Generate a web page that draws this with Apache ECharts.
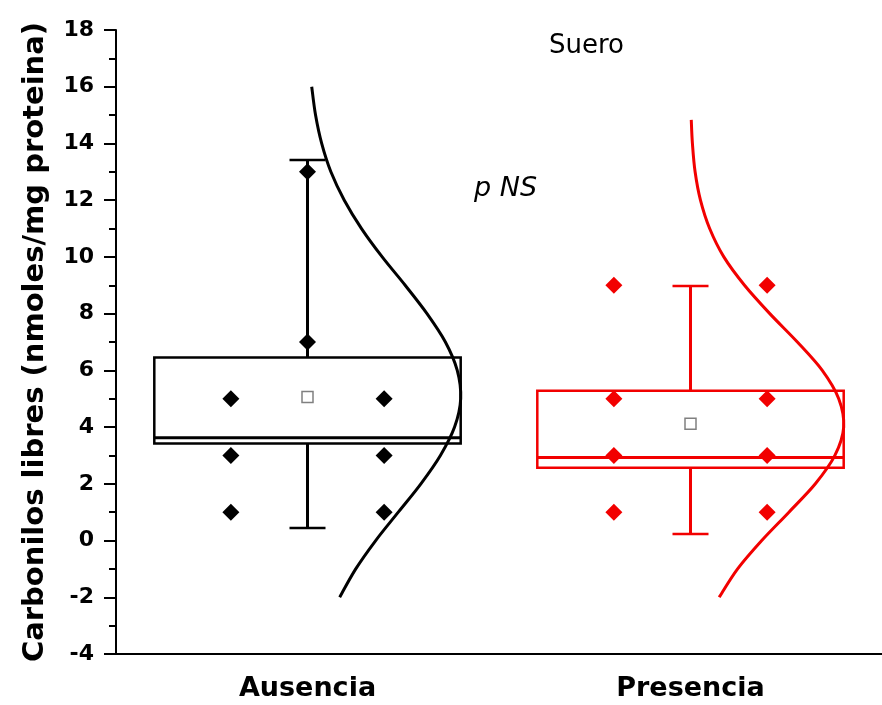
<!DOCTYPE html>
<html>
<head>
<meta charset="utf-8">
<script src="https://cdn.jsdelivr.net/npm/echarts@6/dist/echarts.min.js"></script>
<style>html,body{margin:0;padding:0;background:#fff;}#c{width:882px;height:705px;}</style>
</head>
<body>
<div id="c"></div>
<script>
// ---- data ----
const categories = ['Ausencia', 'Presencia'];
const yTicks = [-4, -2, 0, 2, 4, 6, 8, 10, 12, 14, 16, 18];
// box statistics: [q1, median, q3, whiskerLow, whiskerHigh, mean]
const boxAusencia = [3.42, 3.62, 6.45, 0.44, 13.42, 5.06];
const boxPresencia = [2.57, 2.93, 5.28, 0.23, 8.97, 4.12];
// raw points, by column (left / centre / right)
const ptsAusenciaLeft = [5, 3, 1];
const ptsAusenciaCenter = [13, 7];
const ptsAusenciaRight = [5, 3, 1];
const ptsPresenciaLeft = [9, 5, 3, 1];
const ptsPresenciaCenter = [];
const ptsPresenciaRight = [9, 5, 3, 1];
// normal-curve outline: [value, curve width in category units]
const curveAusencia = [
  [16, 0.011], [15, 0.021], [14, 0.037], [13, 0.061], [12, 0.096], [11, 0.141],
  [10, 0.195], [9, 0.255], [8, 0.312], [7, 0.360], [6, 0.391], [5, 0.400],
  [4, 0.384], [3, 0.347], [2, 0.296], [1, 0.237], [0, 0.178], [-1, 0.126], [-2, 0.084]
];
const curvePresencia = [
  [14.83, 0.002], [14, 0.005], [13, 0.012], [12, 0.026], [11, 0.050], [10, 0.087],
  [9, 0.141], [8, 0.207], [7, 0.279], [6, 0.344], [5, 0.387], [4, 0.400],
  [3, 0.377], [2, 0.326], [1, 0.257], [0, 0.186], [-1, 0.123], [-2, 0.075]
];
const annotTitle = 'Suero';
const annotP = 'p NS';
const yAxisTitle = 'Carbonilos libres (nmoles/mg proteina)';

// ---- styling ----
const BLACK = '#000000';
const RED = '#f20000';
const colors = [BLACK, RED];
const FONT = '"DejaVu Sans", sans-serif';
const colOffset = 0.2;

const boxes = [boxAusencia, boxPresencia];
const colsLeft = [ptsAusenciaLeft, ptsPresenciaLeft];
const colsCenter = [ptsAusenciaCenter, ptsPresenciaCenter];
const colsRight = [ptsAusenciaRight, ptsPresenciaRight];
const curves = [curveAusencia, curvePresencia];

const series = [];

// boxes + whiskers
series.push({
  type: 'custom',
  xAxisIndex: 1, yAxisIndex: 0,
  data: boxes.map((b, i) => [i + 1].concat(b).concat([i])),
  renderItem: function (params, api) {
    const x = api.value(0);
    const q1 = api.value(1), med = api.value(2), q3 = api.value(3);
    const wl = api.value(4), wh = api.value(5);
    const ci = api.value(7);
    const col = colors[ci];
    const halfW = 0.4, capW = 0.047;
    const pL = api.coord([x - halfW, q3]);
    const pR = api.coord([x + halfW, q1]);
    const pc = (v) => api.coord([x, v]);
    const cap = (v) => {
      const a = api.coord([x - capW, v]), b = api.coord([x + capW, v]);
      return { type: 'line', shape: { x1: a[0], y1: a[1], x2: b[0], y2: b[1] }, style: { stroke: col, lineWidth: 2.5 } };
    };
    const mL = api.coord([x - halfW, med]), mR = api.coord([x + halfW, med]);
    return {
      type: 'group',
      children: [
        { type: 'line', shape: { x1: pc(q3)[0], y1: pc(q3)[1], x2: pc(wh)[0], y2: pc(wh)[1] }, style: { stroke: col, lineWidth: 3 } },
        { type: 'line', shape: { x1: pc(q1)[0], y1: pc(q1)[1], x2: pc(wl)[0], y2: pc(wl)[1] }, style: { stroke: col, lineWidth: 3 } },
        cap(wh), cap(wl),
        { type: 'rect', shape: { x: pL[0], y: pL[1], width: pR[0] - pL[0], height: pR[1] - pL[1] }, style: { fill: 'rgba(0,0,0,0)', stroke: col, lineWidth: 2.5 } },
        { type: 'line', shape: { x1: mL[0], y1: mL[1], x2: mR[0], y2: mR[1] }, style: { stroke: col, lineWidth: 3 } }
      ]
    };
  },
  z: 2
});

// raw points
[0, 1].forEach(i => {
  const x = i + 1;
  const data = []
    .concat(colsLeft[i].map(v => [x - colOffset, v]))
    .concat(colsCenter[i].map(v => [x, v]))
    .concat(colsRight[i].map(v => [x + colOffset, v]));
  series.push({
    type: 'scatter', xAxisIndex: 1, yAxisIndex: 0,
    symbol: 'diamond', symbolSize: 17,
    itemStyle: { color: colors[i], opacity: 1 },
    data: data, z: 4
  });
});

// mean markers
series.push({
  type: 'scatter', xAxisIndex: 1, yAxisIndex: 0,
  symbol: 'rect', symbolSize: 11,
  itemStyle: { color: '#ffffff', borderColor: '#808080', borderWidth: 1.5, opacity: 1 },
  data: boxes.map((b, i) => [i + 1, b[5]]), z: 5
});

// fitted normal curves, drawn as a smooth path through the read points
series.push({
  type: 'custom', xAxisIndex: 1, yAxisIndex: 0,
  data: [[1, 0], [2, 1]],
  renderItem: function (params, api) {
    const i = api.value(1);
    const x0 = api.value(0);
    const pts = curves[i].map(p => api.coord([x0 + p[1], p[0]]));
    let d = 'M' + pts[0][0] + ' ' + pts[0][1];
    for (let k = 0; k < pts.length - 1; k++) {
      const p0 = pts[Math.max(0, k - 1)], p1 = pts[k], p2 = pts[k + 1], p3 = pts[Math.min(pts.length - 1, k + 2)];
      const c1 = [p1[0] + (p2[0] - p0[0]) / 6, p1[1] + (p2[1] - p0[1]) / 6];
      const c2 = [p2[0] - (p3[0] - p1[0]) / 6, p2[1] - (p3[1] - p1[1]) / 6];
      d += ' C' + c1[0] + ' ' + c1[1] + ' ' + c2[0] + ' ' + c2[1] + ' ' + p2[0] + ' ' + p2[1];
    }
    return {
      type: 'path',
      shape: { pathData: d },
      style: { fill: 'none', stroke: colors[i], lineWidth: 3 }
    };
  },
  z: 3
});

const chart = echarts.init(document.getElementById('c'));
chart.setOption({
  backgroundColor: '#ffffff',
  animation: false,
  grid: { left: 116, right: -6, top: 30, bottom: 51 },
  xAxis: [
    {
      type: 'category', data: categories, boundaryGap: true,
      axisLine: { onZero: false, lineStyle: { color: BLACK, width: 2 } },
      axisTick: { alignWithLabel: true, length: 10, lineStyle: { color: BLACK, width: 2 } },
      axisLabel: { color: BLACK, fontFamily: FONT, fontWeight: 'bold', fontSize: 27, margin: 21 },
      splitLine: { show: false }
    },
    { type: 'value', min: 0.5, max: 2.5, show: false }
  ],
  yAxis: [{
    type: 'value', min: yTicks[0], max: yTicks[yTicks.length - 1], interval: 2,
    name: yAxisTitle, nameLocation: 'middle', nameGap: 66,
    nameTextStyle: { color: BLACK, fontFamily: FONT, fontWeight: 'bold', fontSize: 29 },
    axisLine: { show: true, onZero: false, lineStyle: { color: BLACK, width: 2 } },
    axisTick: { show: true, length: 12, lineStyle: { color: BLACK, width: 2 } },
    minorTick: { show: true, splitNumber: 2, length: 7, lineStyle: { color: BLACK, width: 2 } },
    axisLabel: { color: BLACK, fontFamily: FONT, fontWeight: 'bold', fontSize: 22, margin: 22 },
    splitLine: { show: false }
  }],
  graphic: [
    { type: 'text', left: 549, top: 33, style: { text: annotTitle, fill: BLACK, font: '26px "DejaVu Sans", sans-serif' } },
    { type: 'text', left: 474, top: 175, style: { text: annotP, fill: BLACK, font: 'italic 27px "DejaVu Sans", sans-serif' } }
  ],
  series: series
});
</script>
</body>
</html>
